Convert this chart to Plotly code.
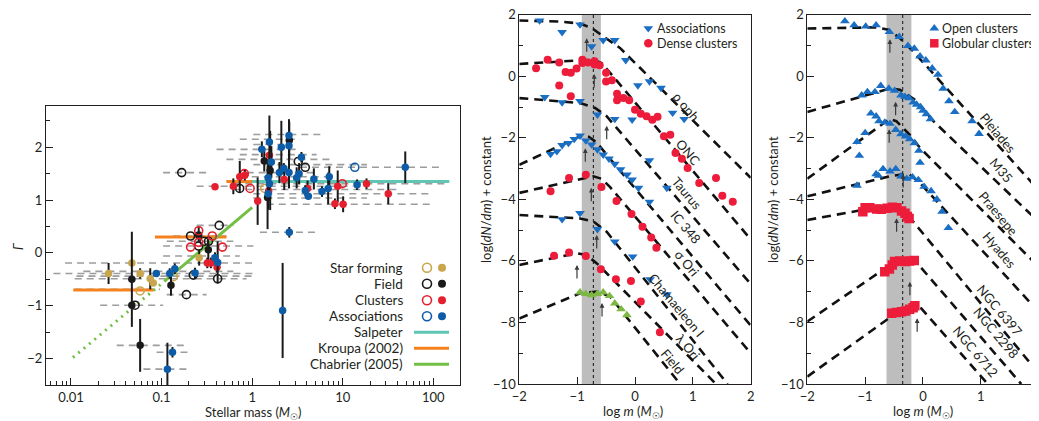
import math
import plotly.graph_objects as go

W, H = 1039, 421
OFF = 8  # page offset of the plot div inside the browser window
FONT = "Lato, 'Open Sans', sans-serif"
DARK = "#231f20"

# ---------------- Panel 1 data (stellar mass, Gamma) ----------------
sf_fill_m = [0.026, 0.047, 0.058, 0.075, 0.081, 0.26]
sf_fill_g = [-0.39, -0.19, -0.39, -0.49, -0.57, -0.09]
sf_fill_e = [0.2, 0, 0.1, 0.2, 0, 0.15]
sf_open_m = [0.058, 0.135, 1.38]
sf_open_g = [-0.72, -0.45, 1.22]

fd_fill_m = [0.047, 0.047, 0.058, 0.127, 0.257, 0.328, 1.36, 2.57, 1.58, 1.48]
fd_fill_g = [-0.5, -0.99, -1.75, -0.61, 0.34, 0.06, 1.74, 2.13, 1.56, 1.05]
fd_fill_e = [0.9, 0, 0.5, 0.2, 0.15, 0.2, 0.2, 0.35, 0.75, 0.6]
fd_open_m = [0.167, 0.051, 0.188, 0.209, 0.294, 0.33, 0.433, 0.416, 0.224, 0.257, 0.728, 3.23, 3.86]
fd_open_g = [1.52, -0.99, -0.79, 0.32, 0.22, 0.22, 0.52, -0.49, -0.42, 0.13, 1.22, 1.73, 1.62]

cl_fill_m = [0.389, 0.62, 0.73, 0.83, 1.15, 1.55, 1.52, 0.32, 0.35, 0.41, 4.09, 8.2, 10.1, 8.8, 18.3, 31.8, 2.26]
cl_fill_g = [1.25, 1.26, 1.44, 1.47, 0.98, 1.85, 1.17, -0.19, -0.19, -0.27, 1.22, 0.93, 0.92, 1.26, 1.31, 1.12, 1.39]
cl_fill_e = [0, 0.15, 0.3, 0.1, 0.45, 0, 0, 0.1, 0.1, 0.1, 0.15, 0.1, 0.15, 0.3, 0.1, 0.2, 0.2]
cl_open_m = [0.257, 0.257, 0.209, 0.363, 0.47, 0.95, 0.82, 9.9]
cl_open_g = [0.42, 0.2, 0.11, 0.32, 0.11, 1.22, 1.5, 1.31]

as_fill_m = [0.0875, 0.123, 0.14, 0.234, 0.389, 0.416, 0.132, 0.116, 2.17, 2.57, 1.28, 1.55, 2.1,
             2.55, 2.55, 1.63, 2.24, 2.0, 2.55, 3.1, 3.5, 3.3, 1.5, 1.5, 1.55, 3.86, 4.17, 4.8,
             5.9, 6.9, 7.1, 14.4, 49]
as_fill_g = [-0.39, -0.39, -0.3, -0.38, -0.09, -0.18, -1.88, -2.2, -1.09, 0.39, 1.96, 2.1, 2.0,
             2.22, 2.03, 1.72, 1.6, 1.52, 1.52, 1.42, 1.81, 1.5, 1.42, 1.12, 1.31, 1.18, 1.07, 1.4,
             1.16, 1.22, 1.44, 1.29, 1.62]
as_fill_e = [0, 0.1, 0.1, 0.1, 0.1, 0.4, 0.1, 0.5, 0.9, 0.1, 0.15, 0.5, 0.5,
             0.3, 0.5, 0.3, 0.1, 0.2, 0.3, 0.2, 0.1, 0.2, 0.3, 0.3, 0.2, 0.1, 0, 0.2,
             0.1, 0.3, 0.2, 0.1, 0.3]
as_open_m = [13.6]
as_open_g = [1.62]

# mass ranges of the individual measurements (grey dashed)
range_lo = [0.0064, 0.0137, 0.0115, 0.0086, 0.011, 0.011, 0.021, 0.032, 0.088, 0.063, 0.114, 0.104,
            0.114, 0.135, 0.244, 0.104, 0.104, 1.22, 1.03, 0.73, 1.03, 0.405, 0.73, 0.52, 1.03,
            3.37, 0.87, 0.73, 0.52, 0.62, 0.244, 0.62, 1.03, 1.03, 1.45]
range_hi = [1.03, 0.62, 1.03, 1.03, 0.87, 0.096, 0.104, 0.189, 0.215, 0.197, 0.314, 1.03,
            0.62, 0.52, 0.62, 0.73, 0.314, 5.15, 6.1, 3.37, 2.4, 3.37, 5.15, 7.9, 18.5,
            118, 5.15, 7.9, 140, 140, 13.1, 43, 99, 18.5, 99]
range_g = [-0.39, -0.35, -0.44, -0.19, -0.49, -0.69, -0.99, -1.75, -1.88, -2.2, -0.79, 0.13,
           0.22, 0.32, 0.52, -0.06, 1.52, 0.39, 2.24, 2.15, 2.05, 1.96, 1.86, 1.77, 1.67,
           1.62, 1.52, 1.44, 1.36, 1.31, 1.26, 1.2, 1.12, 1.04, 0.92]

salpeter_m = [1.0, 150.0]
salpeter_g = [1.35, 1.35]
kroupa_m = [[0.0106, 0.082], [0.0845, 0.52], [0.52, 1.0]]
kroupa_g = [[-0.7, -0.7], [0.3, 0.3], [1.35, 1.35]]
chab_solid_m = [0.107, 1.0]
chab_solid_g = [-0.54, 0.86]
chab_dot_m = [0.0105, 0.107]
chab_dot_g = [-1.98, -0.54]

# ---------------- Panel 2 data (log m, log dN/dm + const) ----------------
rho_x = [-1.65, -1.26, -0.95, -0.75, -0.55, -0.35, -0.16, 0.05, 0.25, 0.45, 0.65, 0.85]
rho_y = [1.81, 1.43, 1.68, 0.97, 1.17, 1.17, 0.52, -0.30, -0.17, -0.38, -1.19, -1.39]
taurus_x = [-1.56, -1.26, -0.95, -0.65, -0.35, -0.05, 0.25, 0.55]
taurus_y = [-0.68, -0.85, -0.81, -1.25, -1.39, -1.41, -2.73, -3.63]
ic348_x = [-1.46, -1.35, -1.26, -1.15, -1.05, -0.95, -0.85, -0.75, -0.65, -0.55, -0.45, -0.35,
           -0.25, -0.14, -0.05, 0.06, 0.25]
ic348_y = [-2.53, -2.44, -2.24, -2.17, -2.04, -1.93, -2.09, -2.22, -2.38, -2.55, -2.68, -2.85,
           -3.03, -3.20, -3.36, -3.63, -4.08]
cham_x = [-1.26, -0.95, -0.65, -0.35, -0.04, 0.26, 0.55]
cham_y = [-4.65, -4.45, -4.97, -5.37, -5.86, -6.60, -7.09]

onc_x = [-1.71, -1.51, -1.31, -1.31, -1.20, -1.11, -1.11, -1.01, -0.91, -0.91, -0.81, -0.70, -0.70,
         -0.61, -0.50, -0.50, -0.40, -0.31, -0.31, -0.20, -0.10, 0.0, 0.10, 0.20, 0.30, 0.39, 0.50,
         0.61, 0.70, 0.81, 0.91, 1.11, 1.40, 1.51, 1.69]
onc_y = [0.26, 0.54, 0.45, -0.30, 0.14, 0.11, -0.65, 0.25, 0.54, 0.43, 0.45, 0.49, 0.38, 0.36,
         0.11, -0.17, -0.13, -0.57, -0.78, -0.71, -0.78, -1.09, -1.22, -1.30, -1.41, -1.32, -1.95,
         -1.90, -2.49, -2.68, -2.98, -3.47, -3.31, -3.88, -4.08]
sori_x = [-1.46, -1.14, -0.85, -0.58, -0.32, -0.06, 0.13, 0.28, 0.37]
sori_y = [-3.74, -3.31, -3.20, -3.60, -4.05, -4.48, -4.89, -5.24, -5.57]
lori_x = [-1.40, -1.14, -0.85, -0.59, -0.33, -0.07, 0.10, 0.43]
lori_y = [-5.83, -5.73, -5.84, -6.27, -6.60, -6.65, -7.32, -8.32]
field_x = [-0.95, -0.85, -0.75, -0.65, -0.55, -0.44, -0.35, -0.24, -0.14]
field_y = [-7.02, -7.07, -7.11, -7.07, -7.02, -7.14, -7.38, -7.57, -7.76]

p2_names = ["ρ oph", "ONC", "Taurus", "IC 348", "σ Ori", "Chamaeleon I", "λ Ori", "Field"]
p2_curve_x = [[-2, -1.3, -0.95, -0.75, -0.55, -0.26, 2.0],
              [-2, -1.3, -0.72, -0.58, -0.43, 2.0],
              [-2, -0.95, -0.69, -0.49, 2.0],
              [-2, -0.95, -0.80, -0.66, -0.49, 2.0],
              [-2, -0.72, -0.58, -0.43, 2.0],
              [-2, -0.95, -0.72, -0.49, 1.6],
              [-2, -1.0, -0.84, -0.66, -0.49, 1.4],
              [-2, -0.95, -0.65, -0.43, 0.78]]
p2_curve_y = [[1.81, 1.78, 1.71, 1.57, 1.30, 0.92, -3.30],
              [0.40, 0.48, 0.54, 0.43, 0.11, -5.30],
              [-0.71, -0.87, -1.03, -1.30, -6.75],
              [-2.88, -1.95, -1.97, -2.15, -2.55, -8.10],
              [-3.79, -3.25, -3.33, -3.60, -9.0],
              [-4.51, -4.62, -4.72, -5.05, -10],
              [-6.13, -5.75, -5.81, -6.08, -6.40, -10],
              [-7.87, -7.05, -7.0, -7.16, -10]]
p2_label_x = [0.894, 0.921, 0.894, 0.882, 0.894, 0.721, 0.921, 0.662]
p2_label_y = [-0.99, -2.45, -3.80, -4.89, -6.08, -7.42, -8.79, -9.27]
p2_arrow_x = [-0.835, -0.704, -0.489, -0.859, -0.755, -0.662, -1.003, -0.57]
p2_arrow_y = [1.233, 0.073, -1.606, -2.341, -3.621, -5.157, -6.132, -7.367]
p2_band = [-0.92, -0.59]
p2_mark = -0.72

# ---------------- Panel 3 data ----------------
pleiades_x = [-1.35, -1.19, -0.99, -0.81, -0.58, -0.41, -0.26, -0.15, -0.05, 0.05, 0.16, 0.26, 0.35,
              0.45, 0.55, 0.85, 0.97]
pleiades_y = [1.79, 1.66, 1.62, 1.66, 1.44, 1.28, 0.99, 0.90, 0.65, 0.52, 0.26, 0.05, -0.40,
              -0.81, -1.16, -1.46, -1.87]
m35_x = [-1.06, -0.96, -0.83, -0.73, -0.59, -0.49, -0.38, -0.31, -0.24, -0.17, -0.11, -0.04, 0.0,
         0.06, 0.13]
m35_y = [-0.62, -0.51, -0.51, -0.31, -0.40, -0.47, -0.62, -0.67, -0.71, -0.85, -0.92, -1.00, -1.12,
         -1.23, -1.39]
praesepe_x = [-1.14, -1.10, -1.00, -0.90, -0.81, -0.76, -0.66, -0.57, -0.47, -0.38, -0.30, -0.23,
              -0.15, -0.07, -0.05]
praesepe_y = [-2.13, -2.58, -1.84, -1.21, -1.30, -1.46, -1.50, -1.54, -1.74, -1.88, -1.95, -2.04,
              -2.17, -2.42, -2.81]
hyades_x = [-1.14, -0.81, -0.77, -0.69, -0.57, -0.47, -0.38, -0.28, -0.18, -0.08, 0.02, 0.14,
            0.24, 0.33, 0.44]
hyades_y = [-3.55, -3.18, -3.23, -3.01, -3.09, -3.01, -3.25, -3.33, -3.28, -3.37, -3.59, -3.73,
            -4.00, -4.40, -4.93]
ngc6397_x = [-1.04, -1.00, -0.92, -0.80, -0.72, -0.62, -0.53, -0.45, -0.37, -0.31, -0.27, -0.24]
ngc6397_y = [-4.40, -4.27, -4.27, -4.31, -4.32, -4.29, -4.26, -4.27, -4.38, -4.45, -4.56, -4.62]
ngc2298_x = [-0.66, -0.58, -0.53, -0.49, -0.40, -0.31, -0.23, -0.15]
ngc2298_y = [-6.35, -6.26, -6.13, -6.02, -6.00, -6.02, -6.00, -5.99]
ngc6712_x = [-0.54, -0.46, -0.37, -0.30, -0.23, -0.17, -0.14]
ngc6712_y = [-7.70, -7.68, -7.65, -7.63, -7.57, -7.52, -7.46]

p3_names = ["Pleiades", "M35", "Praesepe", "Hyades", "NGC 6397", "NGC 2298", "NGC 6712"]
p3_curve_x = [[-2, -0.8, -0.6, -0.4, -0.17, 2.0],
              [-2, -1.09, -0.57, -0.40, -0.14, 0.18, 2.0],
              [-2, -0.58, -0.46, -0.23, -0.05, 2.0],
              [-2, -0.57, -0.40, -0.23, -0.08, 2.0],
              [-2, -1.06, -0.51, -0.28, -0.17, 2.0],
              [-2, -0.69, -0.40, -0.14, 0.0, 1.7],
              [-2, -0.51, -0.14, -0.03, 1.12]]
p3_curve_y = [[1.55, 1.59, 1.51, 1.24, 0.81, -3.70],
              [-1.16, -0.68, -0.40, -0.44, -0.76, -1.46, -4.73],
              [-3.33, -1.39, -1.46, -1.90, -2.33, -6.19],
              [-3.90, -3.25, -3.20, -3.20, -3.41, -7.65],
              [-4.67, -4.35, -4.24, -4.45, -4.72, -9.65],
              [-7.97, -6.29, -6.02, -6.0, -6.29, -10],
              [-9.76, -7.76, -7.46, -7.54, -10]]
p3_label_x = [1.297, 1.354, 1.297, 1.326, 1.326, 1.268, 0.923]
p3_label_y = [-1.855, -3.045, -4.453, -5.645, -7.594, -8.352, -8.95]
p3_arrow_x = [-0.572, -0.473, -0.584, -0.342, -0.456, -0.226, -0.10]
p3_arrow_y = [1.2, -0.826, -1.723, -3.176, -4.615, -6.675, -7.864]
p3_band = [-0.63, -0.20]
p3_mark = -0.35

# ---------------- colours ----------------
GOLD = "#c9a54c"
BLACK = "#1a1a1a"
RED = "#e5202e"
BLUE = "#0d5ca8"
TEAL = "#5fc6b4"
ORANGE = "#f5821f"
GREEN = "#72bf44"
TRI_BLUE = "#1a6fc4"
DOT_RED = "#ec1c3a"
TRI_GREEN = "#7cb842"


def fx(px):
    return (px - OFF) / W


def fy(py):
    return 1 - (py - OFF) / H


fig = go.Figure()


def seg_trace(xs_list, ys_list, **kw):
    xs, ys = [], []
    for a, b in zip(xs_list, ys_list):
        xs += list(a) + [None]
        ys += list(b) + [None]
    return go.Scatter(x=xs, y=ys, mode="lines", hoverinfo="skip", showlegend=False, **kw)


# ---- panel 1 ----
fig.add_trace(seg_trace([[lo, hi] for lo, hi in zip(range_lo, range_hi)],
                        [[g, g] for g in range_g],
                        line=dict(color="#8c8c8c", width=1.6, dash="7px,5px"),
                        xaxis="x", yaxis="y", opacity=0.85))
fig.add_trace(go.Scatter(x=salpeter_m, y=salpeter_g, mode="lines", line=dict(color=TEAL, width=3),
                         xaxis="x", yaxis="y", showlegend=False))
fig.add_trace(seg_trace(kroupa_m, kroupa_g, line=dict(color=ORANGE, width=3), xaxis="x", yaxis="y"))
fig.add_trace(go.Scatter(x=chab_solid_m, y=chab_solid_g, mode="lines", line=dict(color=GREEN, width=3),
                         xaxis="x", yaxis="y", showlegend=False))
fig.add_trace(go.Scatter(x=chab_dot_m, y=chab_dot_g, mode="lines",
                         line=dict(color=GREEN, width=3, dash="2px,5px"),
                         xaxis="x", yaxis="y", showlegend=False))

for fm, fg, fe, om, og, col in [
    (sf_fill_m, sf_fill_g, sf_fill_e, sf_open_m, sf_open_g, GOLD),
    (fd_fill_m, fd_fill_g, fd_fill_e, fd_open_m, fd_open_g, BLACK),
    (cl_fill_m, cl_fill_g, cl_fill_e, cl_open_m, cl_open_g, RED),
    (as_fill_m, as_fill_g, as_fill_e, as_open_m, as_open_g, BLUE),
]:
    fig.add_trace(go.Scatter(x=om, y=og, mode="markers",
                             marker=dict(symbol="circle-open", size=8, color=col, line=dict(width=1.6)),
                             xaxis="x", yaxis="y", showlegend=False))
    fig.add_trace(go.Scatter(x=fm, y=fg, mode="markers",
                             marker=dict(symbol="circle", size=7.5, color=col),
                             error_y=dict(type="data", array=fe, color=BLACK, thickness=2, width=0),
                             xaxis="x", yaxis="y", showlegend=False))

# ---- panel 2 ----
fig.add_trace(seg_trace(p2_curve_x, p2_curve_y, line=dict(color="#111111", width=2.6, dash="9px,6px"),
                        xaxis="x2", yaxis="y2"))
fig.add_trace(go.Scatter(x=rho_x + taurus_x + ic348_x + cham_x, y=rho_y + taurus_y + ic348_y + cham_y,
                         mode="markers", marker=dict(symbol="triangle-down", size=8.5, color=TRI_BLUE),
                         xaxis="x2", yaxis="y2", showlegend=False))
fig.add_trace(go.Scatter(x=onc_x + sori_x + lori_x, y=onc_y + sori_y + lori_y,
                         mode="markers", marker=dict(symbol="circle", size=8, color=DOT_RED),
                         xaxis="x2", yaxis="y2", showlegend=False))
fig.add_trace(go.Scatter(x=field_x, y=field_y, mode="markers",
                         marker=dict(symbol="triangle-up", size=8.5, color=TRI_GREEN),
                         xaxis="x2", yaxis="y2", showlegend=False))

# ---- panel 3 ----
fig.add_trace(seg_trace(p3_curve_x, p3_curve_y, line=dict(color="#111111", width=2.6, dash="9px,6px"),
                        xaxis="x3", yaxis="y3"))
fig.add_trace(go.Scatter(x=pleiades_x + m35_x + praesepe_x + hyades_x,
                         y=pleiades_y + m35_y + praesepe_y + hyades_y,
                         mode="markers", marker=dict(symbol="triangle-up", size=8.5, color=TRI_BLUE),
                         xaxis="x3", yaxis="y3", showlegend=False))
fig.add_trace(go.Scatter(x=ngc6397_x + ngc2298_x + ngc6712_x, y=ngc6397_y + ngc2298_y + ngc6712_y,
                         mode="markers", marker=dict(symbol="square", size=9.5, color=DOT_RED),
                         xaxis="x3", yaxis="y3", showlegend=False))

# ---- legend glyphs (overlay axis in window-pixel units) ----
leg_rows = [267.7, 283.7, 300.3, 316.3, 332.3, 348.3, 364.3]
leg_cols = [GOLD, BLACK, RED, BLUE]
fig.add_trace(go.Scatter(x=[427] * 4, y=leg_rows[:4], mode="markers",
                         marker=dict(symbol="circle-open", size=9, color=leg_cols, line=dict(width=1.6)),
                         xaxis="x4", yaxis="y4", showlegend=False))
fig.add_trace(go.Scatter(x=[442] * 4, y=leg_rows[:4], mode="markers",
                         marker=dict(symbol="circle", size=8, color=leg_cols),
                         xaxis="x4", yaxis="y4", showlegend=False))
for row, col in zip(leg_rows[4:], [TEAL, ORANGE, GREEN]):
    fig.add_trace(go.Scatter(x=[414, 449], y=[row, row], mode="lines", line=dict(color=col, width=3),
                             xaxis="x4", yaxis="y4", showlegend=False))
fig.add_trace(go.Scatter(x=[648.3, 934.3], y=[28.3, 28.3], mode="markers",
                         marker=dict(symbol=["triangle-down", "triangle-up"], size=8.5, color=TRI_BLUE),
                         xaxis="x4", yaxis="y4", showlegend=False))
fig.add_trace(go.Scatter(x=[648.3, 934.3], y=[43.3, 43.3], mode="markers",
                         marker=dict(symbol=["circle", "square"], size=8.5, color=DOT_RED),
                         xaxis="x4", yaxis="y4", showlegend=False))

annotations = []


def px_ann(x, y, text, size=13, **kw):
    d = dict(x=fx(x), y=fy(y), xref="paper", yref="paper", text=text, showarrow=False,
             font=dict(family=FONT, size=size, color=DARK))
    d.update(kw)
    annotations.append(d)


for row, txt in zip(leg_rows, ["Star forming", "Field", "Clusters", "Associations",
                               "Salpeter", "Kroupa (2002)", "Chabrier (2005)"]):
    px_ann(405, row, txt, size=13.5, xanchor="right", yanchor="middle")
px_ann(655, 28.3, "Associations", size=12.5, xanchor="left", yanchor="middle")
px_ann(655, 43.3, "Dense clusters", size=12.5, xanchor="left", yanchor="middle")
px_ann(940, 28.3, "Open clusters", size=12.5, xanchor="left", yanchor="middle")
px_ann(940, 43.3, "Globular clusters", size=12.5, xanchor="left", yanchor="middle")

# axis titles
px_ann(253.3, 413.3, "Stellar mass (<i>M</i><sub>☉</sub>)", xanchor="center", yanchor="middle")
px_ann(18, 246, "<i>Γ</i>", xanchor="center", yanchor="middle", textangle=-90)
px_ann(633.3, 411.5, "log <i>m</i> (<i>M</i><sub>☉</sub>)", xanchor="center", yanchor="middle")
px_ann(923.3, 411.5, "log <i>m</i> (<i>M</i><sub>☉</sub>)", xanchor="center", yanchor="middle")
px_ann(486, 200, "log(<i>dN</i>/<i>dm</i>) + constant", xanchor="center", yanchor="middle", textangle=-90)
px_ann(773, 200, "log(<i>dN</i>/<i>dm</i>) + constant", xanchor="center", yanchor="middle", textangle=-90)

# curve labels
for nm, lx, ly in zip(p2_names, p2_label_x, p2_label_y):
    annotations.append(dict(x=lx, y=ly, xref="x2", yref="y2", text=nm, showarrow=False, textangle=50,
                            font=dict(family=FONT, size=13, color=DARK)))
for nm, lx, ly in zip(p3_names, p3_label_x, p3_label_y):
    annotations.append(dict(x=lx, y=ly, xref="x3", yref="y3", text=nm, showarrow=False, textangle=50,
                            font=dict(family=FONT, size=13, color=DARK)))

# arrows
for xs, ys, xr, yr in [(p2_arrow_x, p2_arrow_y, "x2", "y2"), (p3_arrow_x, p3_arrow_y, "x3", "y3")]:
    for ax_, ay_ in zip(xs, ys):
        annotations.append(dict(x=ax_, y=ay_, xref=xr, yref=yr, text="", showarrow=True, ax=0, ay=15,
                                arrowhead=2, arrowsize=0.8, arrowwidth=1.2, arrowcolor="#3a3a3a", standoff=0))

shapes = []
for band, mark, xr, yr in [(p2_band, p2_mark, "x2", "y2 domain"), (p3_band, p3_mark, "x3", "y3 domain")]:
    shapes.append(dict(type="rect", xref=xr, yref=yr, x0=band[0], x1=band[1], y0=0, y1=1,
                       fillcolor="#bdbdbd", line=dict(width=0), layer="below"))
    shapes.append(dict(type="line", xref=xr, yref=yr, x0=mark, x1=mark, y0=0, y1=1,
                       line=dict(color="#111111", width=1, dash="3px,3px"), layer="below"))


def ax_style(**kw):
    d = dict(showline=True, linecolor=DARK, linewidth=1, mirror=True, ticks="inside", ticklen=7,
             tickwidth=1, tickcolor=DARK, showgrid=False, zeroline=False, automargin=False,
             ticklabeloverflow="allow",
             tickfont=dict(family=FONT, size=13, color=DARK))
    d.update(kw)
    return d


minor_log = [k * 10 ** e for e in range(-3, 3) for k in range(2, 10) if 0.0053 <= k * 10 ** e <= 197]

fig.update_layout(
    width=W, height=H, margin=dict(l=0, r=0, t=0, b=0, pad=0, autoexpand=False),
    paper_bgcolor="white", plot_bgcolor="rgba(0,0,0,0)", showlegend=False,
    xaxis=ax_style(type="log", domain=[fx(46), fx(460)], anchor="y",
                   range=[math.log10(0.0053), math.log10(197)],
                   tickmode="array", tickvals=[0.01, 0.1, 1, 10, 100],
                   ticktext=["0.01", "0.1", "1", "10", "100"],
                   minor=dict(tickmode="array", tickvals=minor_log, ticks="inside", ticklen=4,
                              tickcolor=DARK)),
    yaxis=ax_style(domain=[fy(385), fy(106)], anchor="x", range=[-2.5, 2.78],
                   tickmode="array", tickvals=[-2, -1, 0, 1, 2],
                   minor=dict(dtick=0.5, tick0=0, ticks="inside", ticklen=4, tickcolor=DARK)),
    xaxis2=ax_style(domain=[fx(519.3), fx(750.7)], anchor="y2", range=[-2, 2],
                    tickmode="array", tickvals=[-2, -1, 0, 1, 2]),
    yaxis2=ax_style(domain=[fy(384), fy(14.7)], anchor="x2", range=[-10, 2],
                    tickmode="array", tickvals=[-10, -8, -6, -4, -2, 0, 2],
                    minor=dict(dtick=1, tick0=0, ticks="inside", ticklen=4, tickcolor=DARK)),
    xaxis3=ax_style(domain=[fx(807.3), fx(1038.6)], anchor="y3", range=[-2, 2],
                    tickmode="array", tickvals=[-2, -1, 0, 1, 2]),
    yaxis3=ax_style(domain=[fy(384), fy(14.7)], anchor="x3", range=[-10, 2],
                    tickmode="array", tickvals=[-10, -8, -6, -4, -2, 0, 2],
                    minor=dict(dtick=1, tick0=0, ticks="inside", ticklen=4, tickcolor=DARK)),
    xaxis4=dict(domain=[0, 1], range=[OFF, W + OFF], visible=False, anchor="y4", fixedrange=True),
    yaxis4=dict(domain=[0, 1], range=[H + OFF, OFF], visible=False, anchor="x4", fixedrange=True),
    annotations=annotations, shapes=shapes,
)

fig.write_html("out.html")
